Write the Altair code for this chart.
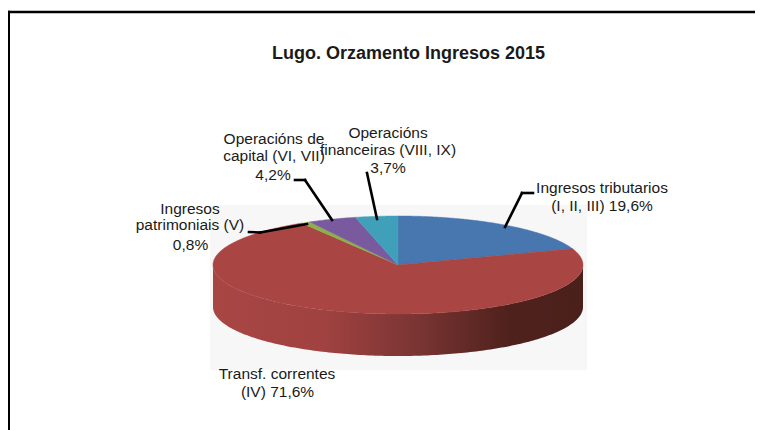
import math
import altair as alt
import pandas as pd

TITLE = "Lugo. Orzamento Ingresos 2015"
categories = ["Ingresos tributarios", "Transf. correntes", "Ingresos patrimoniais",
              "Operacións de capital", "Operacións financeiras"]
shares = [19.6, 71.6, 0.8, 4.2, 3.7]
colors = ["#4876AE", "#A94543", "#8DB04A", "#7A5A9E", "#41A0B9"]

W, H = 747, 422
CX, CY, RX, RY, DEPTH = 398, 265, 185, 49, 42
FONT = "Liberation Sans"
TEXT = "#1a1a1a"

def px(v):
    return v - 8

x_enc = alt.X("x:Q", axis=None, scale=alt.Scale(domain=[-1, 1], nice=False, zero=False,
              range=[px(CX - RX), px(CX + RX)]))
y_low = -1 - DEPTH / RY
y_enc = alt.Y("y:Q", axis=None, scale=alt.Scale(domain=[y_low, 1], nice=False, zero=False,
              range=[px(CY + RY + DEPTH), px(CY - RY)]))

rows = []
acc = 0.0
total = sum(shares)
for cat, s in zip(categories, shares):
    a0, a1 = acc / total * 360, (acc + s) / total * 360
    acc += s
    rows.append({"cat": cat, "i": 0, "x": 0.0, "y": 0.0})
    n = max(2, int((a1 - a0) * 2))
    for k in range(n + 1):
        t = math.radians(a0 + (a1 - a0) * k / n)
        rows.append({"cat": cat, "i": k + 1, "x": math.sin(t), "y": math.cos(t)})
pie = pd.DataFrame(rows)

side = []
for d in range(90, 271):
    t = math.radians(d)
    side.append({"x": math.sin(t), "y": math.cos(t), "y2": math.cos(t) - DEPTH / RY})
side = pd.DataFrame(side)

one = pd.DataFrame({"a": [0]})

def seg(x1, y1, x2, y2, color="#000000", w=2.6):
    return alt.Chart(one).mark_rule(color=color, strokeWidth=w, strokeCap="square").encode(
        x=alt.value(px(x1)), x2=alt.value(px(x2)), y=alt.value(px(y1)), y2=alt.value(px(y2)))

def txt(s, x, y, size=15.5, bold=False):
    return alt.Chart(one).mark_text(text=s, font=FONT, fontSize=size, align="center", baseline="alphabetic",
                                    fontWeight="bold" if bold else "normal", color=TEXT).encode(
        x=alt.value(px(x)), y=alt.value(px(y)))

backdrop = alt.Chart(one).mark_rect(color="#f7f7f7").encode(
    x=alt.value(px(210)), x2=alt.value(px(587)), y=alt.value(px(205)), y2=alt.value(px(370)))

side_area = alt.Chart(side).mark_area(
    color=alt.Gradient(gradient="linear", x1=0, x2=1, y1=0, y2=0, stops=[
        alt.GradientStop(offset=0, color="#A84644"),
        alt.GradientStop(offset=0.3, color="#A04240"),
        alt.GradientStop(offset=0.55, color="#7A3533"),
        alt.GradientStop(offset=0.8, color="#4F211D"),
        alt.GradientStop(offset=1, color="#4A201B"),
    ])).encode(x=x_enc, y=y_enc, y2="y2:Q")

color_scale = alt.Scale(domain=categories, range=colors)
slices = alt.Chart(pie).mark_line(interpolate="linear-closed", strokeWidth=0.5).encode(
    x=x_enc, y=y_enc, order="i:Q",
    fill=alt.Fill("cat:N", scale=color_scale, legend=None),
    stroke=alt.Stroke("cat:N", scale=color_scale, legend=None))

layers = [
    backdrop,
    seg(8.8, 12, 763, 12, w=2.4),
    seg(8.8, 12, 8.8, 430, w=2.4),
    side_area,
    slices,
    seg(505, 227, 522, 193), seg(522, 193, 533, 193),
    seg(377, 219, 367, 173),
    seg(332, 220, 305, 180), seg(305, 180, 295, 180),
    seg(307, 224, 260, 232.5), seg(260, 232.5, 249, 232),
    txt(TITLE, 408.5, 59, size=18, bold=True),
    txt("Ingresos tributarios", 602, 193),
    txt("(I, II, III) 19,6%", 602, 210.5),
    txt("Operacións de", 274, 144),
    txt("capital (VI, VII)", 274, 160.5),
    txt("4,2%", 273, 180),
    txt("Operacións", 388, 138),
    txt("financeiras (VIII, IX)", 388, 155),
    txt("3,7%", 388, 173),
    txt("Ingresos", 190, 214),
    txt("patrimoniais (V)", 190, 229.5),
    txt("0,8%", 190.5, 250),
    txt("Transf. correntes", 277, 379),
    txt("(IV) 71,6%", 277.5, 397),
]

chart = alt.layer(*layers).resolve_scale(fill="shared", stroke="shared").properties(
    width=W, height=H, padding=0, autosize=alt.AutoSizeParams(type="none"), background="white"
).configure_view(strokeWidth=0)

chart.save("out.html", embed_options={"renderer": "svg", "actions": False})
